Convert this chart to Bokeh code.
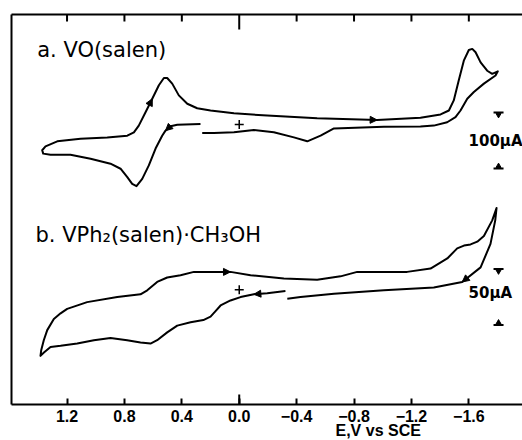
from bokeh.plotting import figure
from bokeh.models import (Range1d, LinearAxis, FixedTicker, ColumnDataSource, Arrow,
                          NormalHead, Title)
from bokeh.core.properties import value
from bokeh.embed import file_html
from bokeh.resources import INLINE

# ---------------- data (E in V vs SCE, current in µA, cathodic up) ----------------
ticks = [1.2, 0.8, 0.4, 0.0, -0.4, -0.8, -1.2, -1.6]
tick_labels = ["1.2", "0.8", "0.4", "0.0", "\u22120.4", "\u22120.8", "\u22121.2", "\u22121.6"]

a_E = [0.270, 0.432, 0.479, 0.514, 0.537, 0.583, 0.630, 0.676, 0.716, 0.746,
       0.780, 0.827, 0.897, 1.036, 1.176, 1.315, 1.366, 1.373, 1.350, 1.268,
       1.106, 0.920, 0.780, 0.734, 0.700, 0.653, 0.606, 0.560, 0.525, 0.502,
       0.467, 0.421, 0.362, 0.293, 0.200, 0.037, -0.195, -0.543, -0.961, -1.263,
       -1.403, -1.461, -1.495, -1.530, -1.565, -1.600, -1.624, -1.647, -1.682, -1.728,
       -1.763, -1.802, -1.786, -1.705, -1.635, -1.589, -1.542, -1.507, -1.449, -1.356,
       -1.263, -1.008, -0.660, -0.567, -0.474, -0.381, -0.241, -0.102, 0.037, 0.177,
       0.258]
a_i = [1, -0.5, -3, -11, -20, -43, -73, -97, -110, -106,
       -94, -79, -70, -61, -54, -54, -52, -46, -39, -30,
       -25.5, -23, -20, -14, -2, 22, 46, 70, 83, 83,
       73, 52, 37, 29, 25, 20, 16, 11, 8, 12,
       18, 25, 43, 79, 114, 133, 135, 129, 111, 96,
       90.5, 95, 87.5, 73, 58, 46, 25, 13, 4, -2,
       -3.5, -4, -7, -20, -30, -23, -14, -10, -14, -15,
       -15]

b_E = [-0.322, -0.195, -0.102, -0.009, 0.061, 0.130, 0.165, 0.200, 0.250, 0.339,
       0.432, 0.502, 0.572, 0.618, 0.688, 0.781, 0.897, 1.013, 1.129, 1.245,
       1.315, 1.361, 1.385, 1.380, 1.362, 1.338, 1.292, 1.245, 1.199, 1.060,
       0.850, 0.688, 0.641, 0.572, 0.502, 0.409, 0.316, 0.177, 0.061, -0.079,
       -0.311, -0.543, -0.706, -0.822, -0.938, -1.170, -1.333, -1.450, -1.519, -1.566,
       -1.612, -1.659, -1.705, -1.763, -1.793, -1.784, -1.751, -1.682, -1.554, -1.356,
       -1.008, -0.660, -0.427, -0.335]
b_i = [-1, -3, -4, -6.5, -9.5, -14, -19, -24, -27, -29,
       -32, -38, -45, -48, -47, -45, -43, -45, -48, -50,
       -51, -56, -59, -54, -45, -36, -26, -21, -17, -11,
       -6.5, -4, -0.5, 7, 11, 13, 16, 16, 16, 13,
       10, 9, 12, 16, 16, 16, 19, 28, 37, 39.5,
       40.5, 43, 48, 62, 73, 62, 41, 20, 7, 2,
       -0.5, -3.5, -6.5, -8]

# scan-direction arrows: (start index, end index) along each trace
a_arrows = [(25, 26), (2, 3), (37, 38)]
b_arrows = [(1, 2), (37, 38), (57, 58)]

a_bar_uA = 100
b_bar_uA = 50

# ---------------- layout (display units: pixels above frame bottom) ----------------
A_ZERO, A_SCALE = 280.0, 0.56
B_ZERO, B_SCALE = 114.7, 1.12
ya = [A_ZERO + A_SCALE * v for v in a_i]
yb = [B_ZERO + B_SCALE * v for v in b_i]
Y_TOP = 390

LABELFONT = "DejaVu Sans"
TICKFONT = "Liberation Sans"

p = figure(width=522, height=440, output_backend="svg", toolbar_location=None,
           x_range=Range1d(1.587, -1.974), y_range=Range1d(0, Y_TOP),
           min_border_left=11, min_border_right=0, min_border_top=14, min_border_bottom=36,
           x_axis_location=None, y_axis_location=None)
p.grid.visible = False
p.outline_line_color = None
p.background_fill_color = "white"
p.border_fill_color = "white"

# bottom axis
xb = LinearAxis(ticker=FixedTicker(ticks=ticks),
                major_label_overrides={t: l for t, l in zip(ticks, tick_labels)})
xb.axis_line_width = 2
xb.major_tick_in = 6
xb.major_tick_out = 0
xb.major_tick_line_width = 2
xb.minor_tick_line_color = None
xb.major_label_standoff = 5
xb.major_label_text_font = TICKFONT
xb.major_label_text_font_style = "bold"
xb.major_label_text_font_size = "16px"
xb.major_label_text_color = "black"
p.add_layout(xb, "below")

# axis title, placed off-centre as in the original
p.add_layout(Title(text="E,V vs SCE", align="left", offset=324, standoff=-8,
                   vertical_align="middle", text_font=TICKFONT, text_font_style="bold",
                   text_font_size="16px", text_color="black"), "below")

# top and left frame lines
for side in ("above", "left"):
    ax = LinearAxis(ticker=FixedTicker(ticks=[]))
    ax.axis_line_width = 2
    ax.major_tick_out = 0
    ax.major_tick_in = 0
    ax.minor_tick_line_color = None
    ax.major_label_standoff = 0
    p.add_layout(ax, side)

# top ticks (zero tick longer) and the longer zero tick at the bottom
top_len = [15 if t == 0 else 7 for t in ticks]
p.segment(x0=ticks, y0=[Y_TOP] * len(ticks), x1=ticks, y1=[Y_TOP - l for l in top_len],
          line_color="black", line_width=2)
p.segment(x0=[0.0], y0=[0], x1=[0.0], y1=[10], line_color="black", line_width=2)

# traces
p.line(a_E, ya, line_color="black", line_width=2, line_join="round")
p.line(b_E, yb, line_color="black", line_width=2, line_join="round")

# arrows
def add_arrows(E, Y, pairs):
    src = ColumnDataSource(dict(
        x0=[E[s] for s, e in pairs], y0=[Y[s] for s, e in pairs],
        x1=[E[e] for s, e in pairs], y1=[Y[e] for s, e in pairs]))
    p.add_layout(Arrow(end=NormalHead(size=7, fill_color="black", line_color="black"),
                       x_start="x0", y_start="y0", x_end="x1", y_end="y1",
                       source=src, line_alpha=0))

add_arrows(a_E, ya, a_arrows)
add_arrows(b_E, yb, b_arrows)

# zero markers
p.scatter([0.0, 0.0], [A_ZERO, B_ZERO], marker="cross", size=9, line_width=1.5,
          line_color="black")

# labels
p.text(x=[1.408], y=[355], text=["a. VO(salen)"], text_font=value(LABELFONT),
       text_font_size="21px", text_baseline="alphabetic", text_color="black")
p.text(x=[1.420], y=[170], text=["b. VPh\u2082(salen)\u00b7CH\u2083OH"],
       text_font=value(LABELFONT), text_font_size="21px", text_baseline="alphabetic",
       text_color="black")

# current scale bars
bar_x = -1.807
def scale_bar(zero, scale, center_uA, length_uA, label, label_y):
    top = zero + scale * (center_uA + length_uA / 2)
    bot = zero + scale * (center_uA - length_uA / 2)
    p.scatter([bar_x, bar_x], [top, bot], marker="dash", size=10, line_width=2,
              line_color="black")
    p.scatter([bar_x], [top - 2.5], marker="inverted_triangle", size=5,
              fill_color="black", line_color="black")
    p.scatter([bar_x], [bot + 2.5], marker="triangle", size=5,
              fill_color="black", line_color="black")
    p.text(x=[-1.598], y=[label_y], text=[label], text_font=value(LABELFONT),
           text_font_style="bold", text_font_size="15px", text_baseline="middle",
           text_color="black")

scale_bar(A_ZERO, A_SCALE, -28.6, a_bar_uA, "%d\u00b5A" % a_bar_uA, 264)
scale_bar(B_ZERO, B_SCALE, -6.4, b_bar_uA, "%d\u00b5A" % b_bar_uA, 111.5)

open("out.html", "w").write(file_html(p, INLINE))
